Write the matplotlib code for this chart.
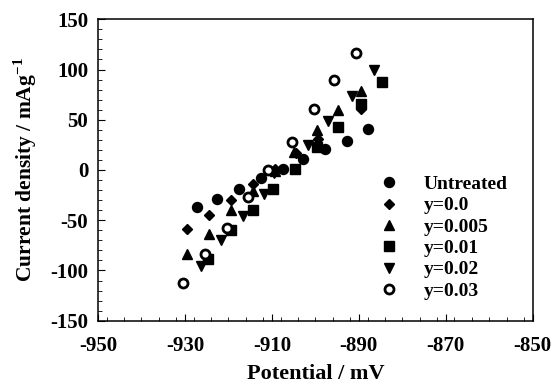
import matplotlib
matplotlib.use("Agg")
import matplotlib.pyplot as plt
from matplotlib.ticker import MultipleLocator

plt.rcParams['font.family'] = ['Liberation Serif', 'DejaVu Serif']
plt.rcParams['font.weight'] = 'bold'
plt.rcParams['axes.unicode_minus'] = False
plt.rcParams['mathtext.fontset'] = 'custom'
plt.rcParams['mathtext.rm'] = 'Liberation Serif:bold'
plt.rcParams['mathtext.bf'] = 'Liberation Serif:bold'

labels = ["Untreated", "y=0.0", "y=0.005", "y=0.01", "y=0.02", "y=0.03"]

untreated_x = [-927.3, -922.7, -917.6, -912.6, -907.4, -902.9, -897.8, -892.8, -887.8]
untreated_y = [-37, -29, -19, -8, 1, 11, 21, 29, 40.5]

y00_x = [-929.5, -924.4, -919.4, -914.4, -909.3, -904.5, -899.3, -889.6]
y00_y = [-59, -45, -30, -14, 0.5, 17, 31, 61]

y005_x = [-929.6, -924.5, -919.4, -914.4, -909.3, -904.8, -899.7, -894.7, -889.5]
y005_y = [-84, -64, -40, -20.5, -0.5, 17.5, 40, 60, 79]

y01_x = [-924.6, -919.4, -914.4, -909.8, -904.7, -899.6, -894.7, -889.5, -884.6]
y01_y = [-88.5, -60, -40, -19, 0.7, 22.6, 43, 65.7, 87.6]

y02_x = [-926.4, -921.8, -916.7, -911.8, -909.5, -901.7, -897.0, -891.5, -886.6]
y02_y = [-96, -70, -46, -24, -3, 25, 49, 74, 100]

y03_x = [-930.5, -925.5, -920.4, -915.4, -910.8, -905.3, -900.2, -895.7, -890.7]
y03_y = [-112, -84, -58, -26.5, 0, 28, 61, 89.6, 116]

xticks = [-950, -930, -910, -890, -870, -850]
yticks = [-150, -100, -50, 0, 50, 100, 150]

W, H = 554, 383
fig = plt.figure(figsize=(W/100, H/100), dpi=100)
ax = fig.add_axes([98/W, 1 - 320.7/H, (532.7-98)/W, (320.7-19.3)/H])

ax.plot(untreated_x, untreated_y, 'o', color='black', ms=7.2, label=labels[0])
ax.plot(y00_x, y00_y, 'D', color='black', ms=5, label=labels[1])
ax.plot(y005_x, y005_y, '^', color='black', ms=7.5, label=labels[2])
ax.plot(y01_x, y01_y, 's', color='black', ms=6.8, label=labels[3])
ax.plot(y02_x, y02_y, 'v', color='black', ms=7.5, label=labels[4])
ax.plot(y03_x, y03_y, 'o', mfc='white', mec='black', mew=2.0, ms=6.5, label=labels[5])

ax.set_xlim(-950, -850)
ax.set_ylim(-150, 150)
ax.set_xticks(xticks)
ax.set_yticks(yticks)
ax.xaxis.set_minor_locator(MultipleLocator(4))
ax.yaxis.set_minor_locator(MultipleLocator(10))
ax.tick_params(axis='both', which='both', direction='in', top=False, right=False, labelsize=15)
ax.tick_params(axis='both', which='major', length=5, width=0.8)
ax.tick_params(axis='both', which='minor', length=3, width=0.6)
ax.tick_params(axis='x', which='major', pad=11)
ax.tick_params(axis='y', which='major', pad=7)
for lab in ax.get_xticklabels() + ax.get_yticklabels():
    lab.set_fontweight('bold')
for sp in ax.spines.values():
    sp.set_linewidth(1.1)

ax.set_xlabel('Potential / mV', fontsize=16, fontweight='bold', labelpad=6)
ax.set_ylabel('Current density / mAg$^{-1}$', fontsize=15.5, fontweight='bold', labelpad=8)

leg = ax.legend(loc='upper left', bbox_to_anchor=(361.5/W, 1 - 158/H),
                bbox_transform=fig.transFigure, frameon=False,
                prop={'family': 'Liberation Serif', 'weight': 'bold', 'size': 14},
                handletextpad=1.3, labelspacing=0.19, handlelength=1.0)

fig.savefig('out.png', dpi=100)
